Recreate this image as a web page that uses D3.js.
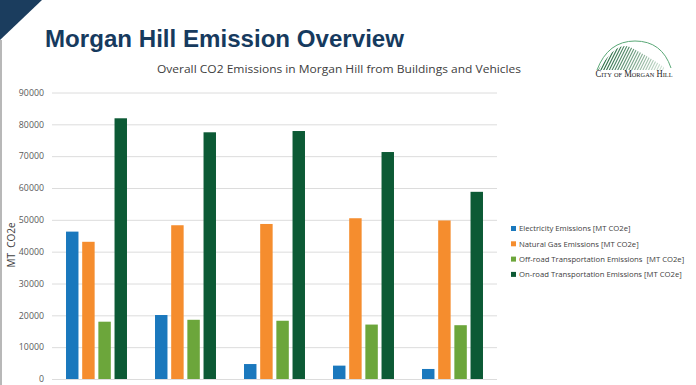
<!DOCTYPE html>
<html>
<head>
<meta charset="utf-8">
<script src="https://cdn.jsdelivr.net/npm/d3@7"></script>
<style>
  html, body { margin: 0; padding: 0; background: #fff; }
  svg { display: block; }
</style>
</head>
<body>
<div id="chart"></div>
<script>
// data
const categories = ["Group 1", "Group 2", "Group 3", "Group 4", "Group 5"];
const seriesNames = [
  "Electricity Emissions [MT CO2e]",
  "Natural Gas Emissions [MT CO2e]",
  "Off-road Transportation Emissions  [MT CO2e]",
  "On-road Transportation Emissions [MT CO2e]"
];
const electricity = [46300, 20100, 4700, 4200, 3150];
const naturalGas = [43100, 48300, 48700, 50500, 49800];
const offRoad = [18000, 18600, 18300, 17100, 16900];
const onRoad = [81900, 77500, 77900, 71300, 58800];
const yTicks = [0, 10000, 20000, 30000, 40000, 50000, 60000, 70000, 80000, 90000];
const colors = ["#1a78bd", "#f58d2e", "#6ca63b", "#0c5a35"];

const width = 696, height = 385;
const margin = { top: 92, right: 199, bottom: 6, left: 52 };

const svg = d3.select("#chart").append("svg")
  .attr("width", width)
  .attr("height", height);

// slide decoration
svg.append("path")
  .attr("d", "M0,0 L42,0 L0,40 Z")
  .attr("fill", "#1b3d5e");
svg.append("rect")
  .attr("x", 0).attr("y", 40)
  .attr("width", 2).attr("height", height - 40)
  .attr("fill", "#b8b8b8");

svg.append("text")
  .attr("x", 45).attr("y", 47)
  .attr("font-family", "Liberation Sans, Arial, sans-serif")
  .attr("font-weight", "bold")
  .attr("font-size", 24)
  .attr("fill", "#163a5e")
  .attr("textLength", 359)
  .attr("lengthAdjust", "spacingAndGlyphs")
  .text("Morgan Hill Emission Overview");

svg.append("text")
  .attr("x", 339).attr("y", 73)
  .attr("text-anchor", "middle")
  .attr("font-family", "Open Sans, sans-serif")
  .attr("font-size", 11.5)
  .attr("fill", "#404040")
  .attr("textLength", 364)
  .attr("lengthAdjust", "spacingAndGlyphs")
  .text("Overall CO2 Emissions in Morgan Hill from Buildings and Vehicles");

// logo
const logo = svg.append("g");
logo.append("path")
  .attr("d", "M597,70 Q608,41 635,41 Q662,41 671,68")
  .attr("fill", "none")
  .attr("stroke", "#5aa877")
  .attr("stroke-width", 1);
svg.append("clipPath").attr("id", "hill")
  .append("path")
  .attr("d", "M598,70 Q608,55 616,49 Q623,44 630,47 Q646,55 664,67 L664,70 Z");
const stripes = logo.append("g").attr("clip-path", "url(#hill)");
d3.range(0, 26).forEach(i => {
  stripes.append("line")
    .attr("x1", 592 + i * 2.8).attr("y1", 71)
    .attr("x2", 606 + i * 2.8).attr("y2", 43)
    .attr("stroke", d3.interpolateRgb("#0f5a2c", "#d5e6da")(i / 25))
    .attr("stroke-width", 1.1);
});
logo.append("text")
  .attr("x", 634).attr("y", 76.5)
  .attr("text-anchor", "middle")
  .attr("font-family", "Liberation Serif, serif")
  .attr("font-size", 9.5)
  .attr("font-variant", "small-caps")
  .attr("fill", "#222")
  .attr("textLength", 77)
  .attr("lengthAdjust", "spacingAndGlyphs")
  .text("City of Morgan Hill");

// chart
const plotW = width - margin.left - margin.right;
const x0 = d3.scaleBand()
  .domain(categories)
  .range([margin.left, margin.left + plotW])
  .paddingInner(0.315)
  .paddingOuter(0.1575);
const x1 = d3.scaleBand()
  .domain(seriesNames)
  .range([0, x0.bandwidth()])
  .paddingInner(0.23);
const y = d3.scaleLinear()
  .domain([0, 90000])
  .range([height - margin.bottom, margin.top + 0.5]);

const yAxis = svg.append("g")
  .attr("transform", `translate(${margin.left},0)`)
  .call(d3.axisLeft(y).tickValues(yTicks).tickSize(-plotW).tickPadding(8).tickFormat(d3.format("d")));
yAxis.select(".domain").remove();
yAxis.selectAll(".tick line").attr("stroke", "#dcdcdc").attr("stroke-width", 1);
yAxis.selectAll(".tick text")
  .attr("font-family", "Open Sans, sans-serif")
  .attr("font-size", 8.8)
  .attr("fill", "#595959");

svg.append("text")
  .attr("transform", `translate(15,${245}) rotate(-90)`)
  .attr("text-anchor", "middle")
  .attr("font-family", "Open Sans, sans-serif")
  .attr("font-size", 10)
  .attr("fill", "#404040")
  .attr("xml:space", "preserve")
  .text("MT  CO2e");

const table = categories.map((c, i) => ({
  category: c,
  values: [electricity[i], naturalGas[i], offRoad[i], onRoad[i]]
}));

svg.append("g").selectAll("g")
  .data(table)
  .join("g")
  .attr("transform", d => `translate(${x0(d.category)},0)`)
  .selectAll("rect")
  .data(d => d.values.map((v, k) => ({ key: seriesNames[k], value: v, k })))
  .join("rect")
  .attr("x", d => x1(d.key))
  .attr("y", d => y(d.value))
  .attr("width", x1.bandwidth())
  .attr("height", d => y(0) - y(d.value))
  .attr("fill", d => colors[d.k]);

// legend
const legend = svg.append("g").attr("transform", "translate(511,226)");
seriesNames.forEach((name, i) => {
  const row = legend.append("g").attr("transform", `translate(0,${i * 15.3})`);
  row.append("rect")
    .attr("width", 5).attr("height", 5)
    .attr("fill", colors[i]);
  row.append("text")
    .attr("x", 8).attr("y", 5.3)
    .attr("font-family", "Open Sans, sans-serif")
    .attr("font-size", 7.7)
    .attr("fill", "#404040")
    .attr("xml:space", "preserve")
    .text(name);
});
</script>
</body>
</html>
